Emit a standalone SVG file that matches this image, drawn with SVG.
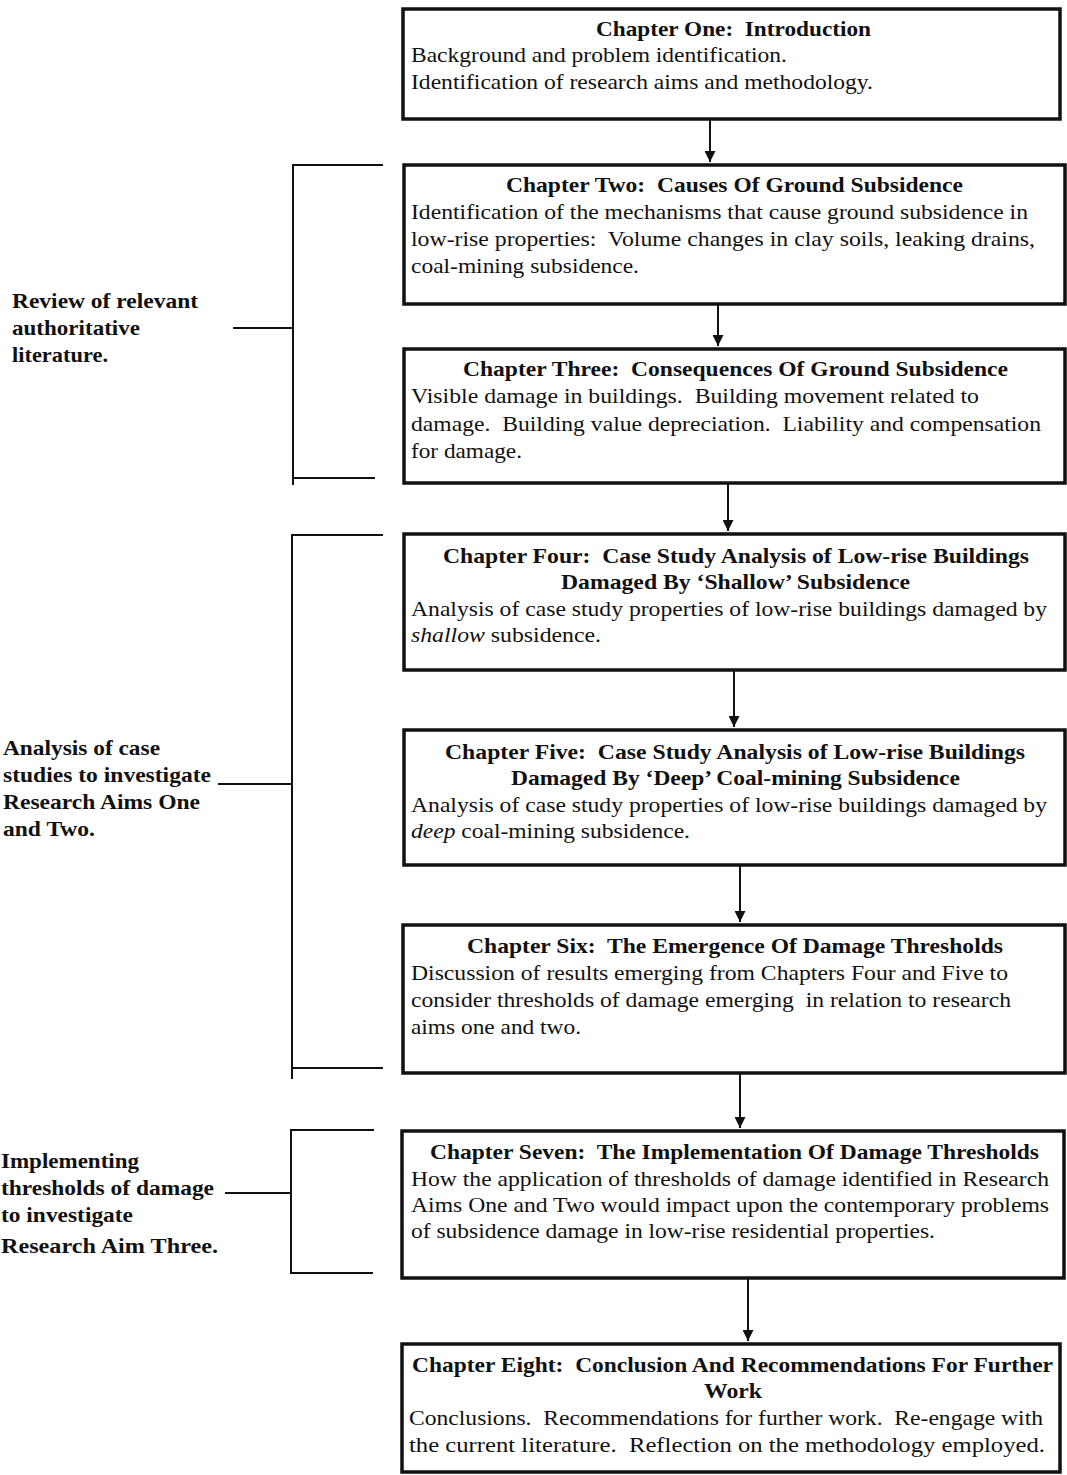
<svg xmlns="http://www.w3.org/2000/svg" width="1067" height="1475" viewBox="0 0 1067 1475">
<defs>
<style>
text{white-space:pre;font-family:'Liberation Serif','Times New Roman',Times,serif;font-size:21px;fill:#111}
.t{font-weight:bold}
.l{font-weight:bold}
.box{fill:#fff;stroke:#111;stroke-width:3.5}
.c{stroke:#111;stroke-width:2;fill:none}
.br{stroke:#111;stroke-width:2;fill:none}
</style>
<marker id="ah" viewBox="0 0 10 10" refX="10" refY="5" markerWidth="11" markerHeight="11" markerUnits="userSpaceOnUse" orient="auto">
<path d="M0,0 L10,5 L0,10 z" fill="#111"/>
</marker>
</defs>
<rect width="1067" height="1475" fill="#fff"/>

<g id="connectors">
<line class="c" x1="710" y1="120" x2="710" y2="162" marker-end="url(#ah)"/>
<line class="c" x1="718" y1="305" x2="718" y2="346" marker-end="url(#ah)"/>
<line class="c" x1="728" y1="484" x2="728" y2="531" marker-end="url(#ah)"/>
<line class="c" x1="734" y1="671" x2="734" y2="727" marker-end="url(#ah)"/>
<line class="c" x1="740" y1="866" x2="740" y2="922" marker-end="url(#ah)"/>
<line class="c" x1="740" y1="1074" x2="740" y2="1128" marker-end="url(#ah)"/>
<line class="c" x1="748" y1="1279" x2="748" y2="1341" marker-end="url(#ah)"/>
</g>

<g id="bracket-literature">
<path class="br" d="M383,165 H293 V485 M293,478 H375 M233,328 H293"/>
<text class="l" font-family="Liberation Serif" x="12" y="308" textLength="186" lengthAdjust="spacingAndGlyphs">Review of relevant</text>
<text class="l" font-family="Liberation Serif" x="12" y="335" textLength="128" lengthAdjust="spacingAndGlyphs">authoritative</text>
<text class="l" font-family="Liberation Serif" x="12" y="362" textLength="96" lengthAdjust="spacingAndGlyphs">literature.</text>
</g>

<g id="bracket-casestudies">
<path class="br" d="M383,535 H292 V1079 M292,1068 H383 M218,784 H292"/>
<text class="l" x="3" y="755" textLength="157" lengthAdjust="spacingAndGlyphs">Analysis of case</text>
<text class="l" x="3" y="782" textLength="208" lengthAdjust="spacingAndGlyphs">studies to investigate</text>
<text class="l" x="3" y="809" textLength="197" lengthAdjust="spacingAndGlyphs">Research Aims One</text>
<text class="l" x="3" y="836" textLength="92" lengthAdjust="spacingAndGlyphs">and Two.</text>
</g>

<g id="bracket-implementing">
<path class="br" d="M374,1130 H291 V1274 M291,1273 H373 M225,1193 H291"/>
<text class="l" x="1" y="1168" textLength="138" lengthAdjust="spacingAndGlyphs">Implementing</text>
<text class="l" x="1" y="1195" textLength="213" lengthAdjust="spacingAndGlyphs">thresholds of damage</text>
<text class="l" x="1" y="1222" textLength="132" lengthAdjust="spacingAndGlyphs">to investigate</text>
<text class="l" x="1" y="1253" textLength="217" lengthAdjust="spacingAndGlyphs">Research Aim Three.</text>
</g>

<g id="ch1">
<rect class="box" x="403" y="9" width="657" height="110"/>
<text class="t" x="596" y="36" textLength="275" lengthAdjust="spacingAndGlyphs">Chapter One:  Introduction</text>
<text class="b" x="411" y="62" textLength="376" lengthAdjust="spacingAndGlyphs">Background and problem identification.</text>
<text class="b" x="411" y="89" textLength="462" lengthAdjust="spacingAndGlyphs">Identification of research aims and methodology.</text>
</g>

<g id="ch2">
<rect class="box" x="404" y="165" width="661" height="139"/>
<text class="t" x="506" y="192" textLength="457" lengthAdjust="spacingAndGlyphs">Chapter Two:  Causes Of Ground Subsidence</text>
<text class="b" x="411" y="219" textLength="617" lengthAdjust="spacingAndGlyphs">Identification of the mechanisms that cause ground subsidence in</text>
<text class="b" x="411" y="246" textLength="624" lengthAdjust="spacingAndGlyphs">low-rise properties:  Volume changes in clay soils, leaking drains,</text>
<text class="b" x="411" y="273" textLength="228" lengthAdjust="spacingAndGlyphs">coal-mining subsidence.</text>
</g>

<g id="ch3">
<rect class="box" x="404" y="349" width="661" height="134"/>
<text class="t" x="463" y="376" textLength="545" lengthAdjust="spacingAndGlyphs">Chapter Three:  Consequences Of Ground Subsidence</text>
<text class="b" x="411" y="403" textLength="568" lengthAdjust="spacingAndGlyphs">Visible damage in buildings.  Building movement related to</text>
<text class="b" x="411" y="431" textLength="630" lengthAdjust="spacingAndGlyphs">damage.  Building value depreciation.  Liability and compensation</text>
<text class="b" x="411" y="458" textLength="111" lengthAdjust="spacingAndGlyphs">for damage.</text>
</g>

<g id="ch4">
<rect class="box" x="404" y="534" width="661" height="136"/>
<text class="t" x="443" y="563" textLength="586" lengthAdjust="spacingAndGlyphs">Chapter Four:  Case Study Analysis of Low-rise Buildings</text>
<text class="t" x="561" y="589" textLength="349" lengthAdjust="spacingAndGlyphs">Damaged By ‘Shallow’ Subsidence</text>
<text class="b" x="411" y="616" textLength="636" lengthAdjust="spacingAndGlyphs">Analysis of case study properties of low-rise buildings damaged by</text>
<text class="b" x="411" y="642" textLength="190" lengthAdjust="spacingAndGlyphs"><tspan font-style="italic">shallow</tspan> subsidence.</text>
</g>

<g id="ch5">
<rect class="box" x="404" y="730" width="661" height="135"/>
<text class="t" x="445" y="759" textLength="580" lengthAdjust="spacingAndGlyphs">Chapter Five:  Case Study Analysis of Low-rise Buildings</text>
<text class="t" x="511" y="785" textLength="449" lengthAdjust="spacingAndGlyphs">Damaged By ‘Deep’ Coal-mining Subsidence</text>
<text class="b" x="411" y="812" textLength="636" lengthAdjust="spacingAndGlyphs">Analysis of case study properties of low-rise buildings damaged by</text>
<text class="b" x="411" y="838" textLength="279" lengthAdjust="spacingAndGlyphs"><tspan font-style="italic">deep</tspan> coal-mining subsidence.</text>
</g>

<g id="ch6">
<rect class="box" x="403" y="925" width="662" height="148"/>
<text class="t" x="467" y="953" textLength="536" lengthAdjust="spacingAndGlyphs">Chapter Six:  The Emergence Of Damage Thresholds</text>
<text class="b" x="411" y="980" textLength="597" lengthAdjust="spacingAndGlyphs">Discussion of results emerging from Chapters Four and Five to</text>
<text class="b" x="411" y="1007" textLength="600" lengthAdjust="spacingAndGlyphs">consider thresholds of damage emerging  in relation to research</text>
<text class="b" x="411" y="1034" textLength="170" lengthAdjust="spacingAndGlyphs">aims one and two.</text>
</g>

<g id="ch7">
<rect class="box" x="402" y="1131" width="662" height="147"/>
<text class="t" x="430" y="1159" textLength="609" lengthAdjust="spacingAndGlyphs">Chapter Seven:  The Implementation Of Damage Thresholds</text>
<text class="b" x="411" y="1186" textLength="638" lengthAdjust="spacingAndGlyphs">How the application of thresholds of damage identified in Research</text>
<text class="b" x="411" y="1212" textLength="638" lengthAdjust="spacingAndGlyphs">Aims One and Two would impact upon the contemporary problems</text>
<text class="b" x="411" y="1238" textLength="524" lengthAdjust="spacingAndGlyphs">of subsidence damage in low-rise residential properties.</text>
</g>

<g id="ch8">
<rect class="box" x="402" y="1344" width="658" height="128"/>
<text class="t" x="412" y="1372" textLength="641" lengthAdjust="spacingAndGlyphs">Chapter Eight:  Conclusion And Recommendations For Further</text>
<text class="t" x="704" y="1398" textLength="58" lengthAdjust="spacingAndGlyphs">Work</text>
<text class="b" x="409" y="1425" textLength="634" lengthAdjust="spacingAndGlyphs">Conclusions.  Recommendations for further work.  Re-engage with</text>
<text class="b" x="409" y="1452" textLength="636" lengthAdjust="spacingAndGlyphs">the current literature.  Reflection on the methodology employed.</text>
</g>
</svg>
